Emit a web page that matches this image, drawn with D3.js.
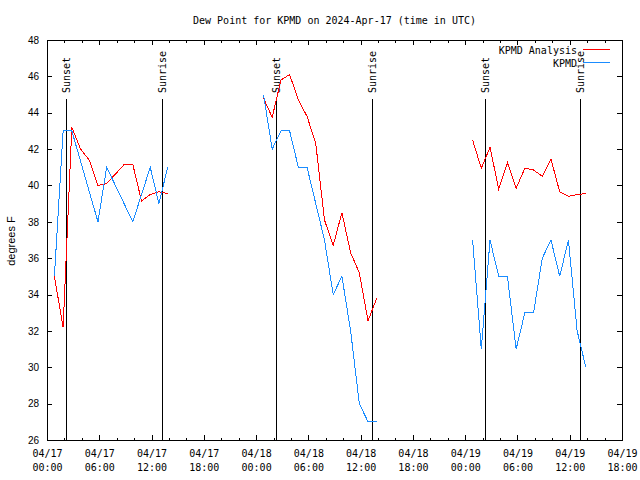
<!DOCTYPE html>
<html><head><meta charset="utf-8">
<script src="https://cdn.jsdelivr.net/npm/d3@7"></script>
<style>body{margin:0;background:#fff}svg{display:block}</style>
</head><body><svg id="c" width="640" height="480"></svg>
<script>
// ---- data ----
const times = [
  "2024-04-17T00:51Z","2024-04-17T01:51Z","2024-04-17T02:51Z","2024-04-17T03:51Z","2024-04-17T04:51Z","2024-04-17T05:51Z","2024-04-17T06:51Z",
  "2024-04-17T07:51Z","2024-04-17T08:51Z","2024-04-17T09:51Z","2024-04-17T10:51Z","2024-04-17T11:51Z","2024-04-17T12:51Z","2024-04-17T13:51Z",
  "2024-04-18T00:51Z","2024-04-18T01:51Z","2024-04-18T02:51Z","2024-04-18T03:51Z","2024-04-18T04:51Z","2024-04-18T05:51Z","2024-04-18T06:51Z",
  "2024-04-18T07:51Z","2024-04-18T08:51Z","2024-04-18T09:51Z","2024-04-18T10:51Z","2024-04-18T11:51Z","2024-04-18T12:51Z","2024-04-18T13:51Z",
  "2024-04-19T00:51Z","2024-04-19T01:51Z","2024-04-19T02:51Z","2024-04-19T03:51Z","2024-04-19T04:51Z","2024-04-19T05:51Z","2024-04-19T06:51Z",
  "2024-04-19T07:51Z","2024-04-19T08:51Z","2024-04-19T09:51Z","2024-04-19T10:51Z","2024-04-19T11:51Z","2024-04-19T12:51Z","2024-04-19T13:51Z"
];
const analysis = [
  35.0, 32.2, 43.2, 42.0, 41.4, 40.0, 40.1, null, 41.15, 41.15, 39.15, 39.5, 39.65, 39.55,
  44.8, 43.75, 45.8, 46.1, 44.7, 43.8, 42.3, 38.1, 36.7, 38.5, 36.3, 35.2, 32.55, 33.8,
  42.5, 40.95, 42.1, 39.8, 41.25, 39.85, 40.95, 40.85, 40.5, 41.45, 39.65, 39.4, 39.5, 39.55
];
const observed = [
  35, 43, 43, null, null, 38, 41, null, null, 38, null, 41, 39, 41,
  45, 42, 43, 43, 41, 41, 39, 37, 34, 35, 32, 28, 27, 27,
  37, 31, 37, 35, 35, 31, 33, 33, 36, 37, 35, 37, 32, 30
];
const sunLabels = ["Sunset","Sunrise","Sunset","Sunrise","Sunset","Sunrise"];
const sunTimes = ["2024-04-17T02:13Z","2024-04-17T13:15Z","2024-04-18T02:19Z","2024-04-18T13:16Z","2024-04-19T02:19Z","2024-04-19T13:13Z"];
const seriesNames = ["KPMD Analysis","KPMD"];
const seriesColors = ["#ff0000","#1a8cff"];
const yTickValues = [26,28,30,32,34,36,38,40,42,44,46,48];
const xDomain = ["2024-04-17T00:00Z","2024-04-19T18:00Z"];
const titleText = "Dew Point for KPMD on 2024-Apr-17 (time in UTC)";
const yLabel = "degrees F";

// ---- layout ----
const L = 47, T = 40, W = 575, H = 400;
const MONO = "'DejaVu Sans Mono', monospace";
const SANS = "'Liberation Sans', Arial, sans-serif";
const svg = d3.select("#c");
const x = d3.scaleUtc().domain(xDomain.map(d => new Date(d))).range([L, L + W]);
const y = d3.scaleLinear().domain([26, 48]).range([T + H, T]);

// title
svg.append("text").attr("x", L + W / 2).attr("y", 24).attr("text-anchor", "middle")
  .attr("font-family", MONO).attr("font-size", 10).text(titleText);

// y label
svg.append("text").attr("transform", "translate(15,241) rotate(-90)").attr("text-anchor", "middle")
  .attr("font-family", SANS).attr("font-size", 11).text(yLabel);

// axes
const g = svg.append("g").attr("shape-rendering", "crispEdges");
const majorX = d3.utcHour.every(6);
const minorX = d3.utcHour.every(2);

g.append("g").attr("transform", `translate(0,${T + H})`)
  .call(d3.axisBottom(x).ticks(minorX).tickSize(-2.5).tickFormat(""));
const xbM = g.append("g").attr("transform", `translate(0,${T + H})`)
  .call(d3.axisBottom(x).ticks(majorX).tickSize(-5).tickPadding(0).tickFormat(d => d));
xbM.selectAll(".tick text").each(function(d) {
  const t = d3.select(this).attr("y", null).attr("dy", null).text(null)
    .attr("font-family", MONO).attr("font-size", 10);
  t.append("tspan").attr("x", 0).attr("y", 17).text(d3.utcFormat("%m/%d")(d));
  t.append("tspan").attr("x", 0).attr("y", 31).text(d3.utcFormat("%H:%M")(d));
});
g.append("g").attr("transform", `translate(0,${T})`)
  .call(d3.axisTop(x).ticks(minorX).tickSize(-2.5).tickFormat(""));
g.append("g").attr("transform", `translate(0,${T})`)
  .call(d3.axisTop(x).ticks(majorX).tickSize(-5).tickFormat(""));

const yl = g.append("g").attr("transform", `translate(${L},0)`)
  .call(d3.axisLeft(y).tickValues(yTickValues).tickSize(-5).tickPadding(8).tickFormat(d3.format("d")));
yl.selectAll(".tick text").attr("font-family", SANS).attr("font-size", 10);
g.append("g").attr("transform", `translate(${L + W},0)`)
  .call(d3.axisRight(y).tickValues(yTickValues).tickSize(-5).tickFormat(""));
g.selectAll(".domain").remove();
g.selectAll(".tick line").attr("stroke", "#000");
g.selectAll(".tick text").attr("fill", "#000");

// frame
g.append("rect").attr("x", L).attr("y", T).attr("width", W).attr("height", H)
  .attr("fill", "none").attr("stroke", "#000");

// sunrise/sunset lines
sunTimes.forEach((s, i) => {
  const xx = Math.round(x(new Date(s))) + 0.5;
  svg.append("line").attr("x1", xx).attr("x2", xx).attr("y1", 99).attr("y2", T + H)
    .attr("stroke", "#000").attr("shape-rendering", "crispEdges");
  svg.append("text").attr("transform", `translate(${xx + 3.5},93) rotate(-90)`)
    .attr("font-family", MONO).attr("font-size", 10).text(sunLabels[i]);
});

// series, broken into segments where the gap exceeds 3 hours
const pts = times.map((t, i) => ({ t: new Date(t), a: analysis[i], o: observed[i] }));
const segments = [];
pts.forEach((p, i) => {
  if (i === 0 || p.t - pts[i - 1].t > 3 * 3600e3) segments.push([]);
  segments[segments.length - 1].push(p);
});
const keys = ["a", "o"];
keys.forEach((k, si) => {
  const line = d3.line().x(d => x(d.t)).y(d => y(d[k]));
  segments.forEach(seg => {
    const data = seg.filter(d => d[k] != null);
    svg.append("path").datum(data).attr("d", line).attr("fill", "none")
      .attr("stroke", seriesColors[si]).attr("stroke-width", 1)
      .attr("shape-rendering", "crispEdges");
  });
});

// legend
seriesNames.forEach((n, i) => {
  const yy = [49.5, 62.5][i];
  svg.append("text").attr("x", 577).attr("y", yy + 4).attr("text-anchor", "end")
    .attr("font-family", MONO).attr("font-size", 10).text(n);
  svg.append("line").attr("x1", 583).attr("x2", 610).attr("y1", yy).attr("y2", yy)
    .attr("stroke", seriesColors[i]).attr("shape-rendering", "crispEdges");
});
</script>
</body></html>
